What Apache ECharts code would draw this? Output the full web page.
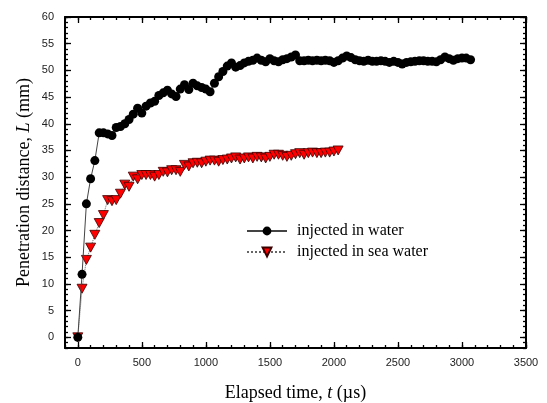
<!DOCTYPE html>
<html><head><meta charset="utf-8">
<script src="https://cdn.jsdelivr.net/npm/echarts@6/dist/echarts.min.js"></script>
<style>html,body{margin:0;padding:0;background:#fff}#c{width:547px;height:403px}</style>
</head><body><div id="c"></div>
<script>
// Elapsed time (µs) of each frame
const timeUs = [0,33,67,100,133,167,200,233,267,300,333,367,400,433,467,500,533,567,600,633,667,700,733,767,800,833,867,900,933,967,1000,1033,1067,1100,1133,1167,1200,1233,1267,1300,1333,1367,1400,1433,1467,1500,1533,1567,1600,1633,1667,1700,1733,1767,1800,1833,1867,1900,1933,1967,2000,2033,2067,2100,2133,2167,2200,2233,2267,2300,2333,2367,2400,2433,2467,2500,2533,2567,2600,2633,2667,2700,2733,2767,2800,2833,2867,2900,2933,2967,3000,3033,3067];
// Penetration distance L (mm), injected in water
const waterL = [0,11.8,25.0,29.7,33.1,38.3,38.3,38.1,37.8,39.3,39.5,40.0,40.8,41.8,42.9,42.0,43.3,43.9,44.2,45.3,45.8,46.3,45.6,45.1,46.5,47.3,46.4,47.6,47.1,46.8,46.5,46.0,47.6,48.8,49.8,50.8,51.4,50.6,50.9,51.4,51.7,51.9,52.3,51.9,51.6,52.2,51.8,51.6,52.0,52.2,52.5,52.9,51.8,51.8,51.9,51.8,51.9,51.8,51.9,51.8,51.5,51.8,52.3,52.7,52.4,52.0,51.8,51.7,51.9,51.7,51.7,51.8,51.7,51.5,51.7,51.5,51.2,51.5,51.6,51.7,51.8,51.8,51.7,51.7,51.6,52.0,52.5,52.2,51.9,52.2,52.3,52.3,52.0];
// Penetration distance L (mm), injected in sea water
const seaL = [0,9.1,14.5,16.8,19.2,21.4,22.9,25.7,25.5,25.7,26.9,28.6,28.2,30.1,29.6,30.4,30.4,30.4,30.1,30.4,31.0,30.9,31.3,31.3,31.0,32.3,32.0,32.6,32.7,32.6,32.9,33.1,33.1,32.9,33.2,33.3,33.5,33.7,33.3,33.5,33.7,33.5,33.8,33.7,33.5,33.8,34.2,34.2,34.0,33.8,34.0,34.3,34.5,34.2,34.5,34.6,34.5,34.5,34.6,34.6,34.8,35.0];
const seriesNames = ['injected in water', 'injected in sea water'];
const xTickLabels = [0,500,1000,1500,2000,2500,3000,3500];
const yTickLabels = [0,5,10,15,20,25,30,35,40,45,50,55,60];
const xRange = [-100, 3500];
const yRange = [-2, 60];

const xMinor = []; for (let v = xRange[0]; v <= xRange[1]; v += 100) xMinor.push(v);
const yMinor = []; for (let v = yRange[0]; v <= yRange[1]; v += 1) yMinor.push(v);

const labelStyle = {color:'#222', fontSize:11, fontFamily:'Liberation Sans, Arial, sans-serif', formatter:(v)=>String(v)};
const serif = 'Liberation Serif, Times New Roman, serif';

function xAx(pos, ticks, len, labels, line) {
  return {
    type:'value', position:pos, min:xRange[0], max:xRange[1],
    axisLine:{show:line, onZero:false, lineStyle:{color:'#000', width:2}},
    axisTick:{show:true, inside:true, length:len, customValues:ticks, lineStyle:{color:'#000', width:1.3}},
    axisLabel:labels ? Object.assign({show:true, margin:9, customValues:xTickLabels}, labelStyle) : {show:false},
    splitLine:{show:false}
  };
}
function yAx(pos, ticks, len, labels, line) {
  return {
    type:'value', position:pos, min:yRange[0], max:yRange[1],
    axisLine:{show:line, onZero:false, lineStyle:{color:'#000', width:2}},
    axisTick:{show:true, inside:true, length:len, customValues:ticks, lineStyle:{color:'#000', width:1.3}},
    axisLabel:labels ? Object.assign({show:true, margin:11, customValues:yTickLabels}, labelStyle) : {show:false},
    splitLine:{show:false}
  };
}

const xAxes = [
  xAx('bottom', xTickLabels, 6, true, true),
  xAx('bottom', xMinor, 3, false, false),
  xAx('top', xTickLabels, 6, false, true),
  xAx('top', xMinor, 3, false, false)
];
xAxes[0].name = '{n|Elapsed time, }{i|t}{n| (µs)}';
xAxes[0].nameLocation = 'middle';
xAxes[0].nameGap = 36;
xAxes[0].nameMoveOverlap = false;
xAxes[0].nameTextStyle = {rich:{n:{fontFamily:serif, fontSize:18, color:'#000'}, i:{fontFamily:serif, fontSize:18, fontStyle:'italic', color:'#000'}}};

const yAxes = [
  yAx('left', yTickLabels, 6, true, true),
  yAx('left', yMinor, 3, false, false),
  yAx('right', yTickLabels, 6, false, true),
  yAx('right', yMinor, 3, false, false)
];
yAxes[0].name = '{n|Penetration distance, }{i|L}{n| (mm)}';
yAxes[0].nameLocation = 'middle';
yAxes[0].nameGap = 32;
yAxes[0].nameMoveOverlap = false;
yAxes[0].nameTextStyle = {rich:{n:{fontFamily:serif, fontSize:18, color:'#000'}, i:{fontFamily:serif, fontSize:18, fontStyle:'italic', color:'#000'}}};

const chart = echarts.init(document.getElementById('c'), null, {renderer:'canvas'});
chart.setOption({
  animation:false,
  backgroundColor:'#fff',
  grid:{left:65, right:21, top:17, bottom:55, containLabel:false, outerBoundsMode:'none'},
  legend:{
    orient:'vertical', left:241, top:218, itemWidth:40, itemHeight:11, itemGap:5,
    data:seriesNames,
    textStyle:{fontFamily:serif, fontSize:16, color:'#000', padding:[0,0,0,5]}
  },
  xAxis:xAxes,
  yAxis:yAxes,
  series:[
    {
      name:seriesNames[1], type:'line', xAxisIndex:0, yAxisIndex:0,
      data:seaL.map((v,i)=>[timeUs[i], v]),
      symbol:'triangle', symbolRotate:180, symbolSize:[10,9],
      itemStyle:{color:'#ff0000', borderColor:'#3a0000', borderWidth:0.8},
      lineStyle:{color:'#666', width:1, type:'dotted'}, z:2
    },
    {
      name:seriesNames[0], type:'line', xAxisIndex:0, yAxisIndex:0,
      data:waterL.map((v,i)=>[timeUs[i], v]),
      symbol:'circle', symbolSize:9,
      itemStyle:{color:'#000'},
      lineStyle:{color:'#444', width:1}, z:3
    }
  ]
});
</script></body></html>
